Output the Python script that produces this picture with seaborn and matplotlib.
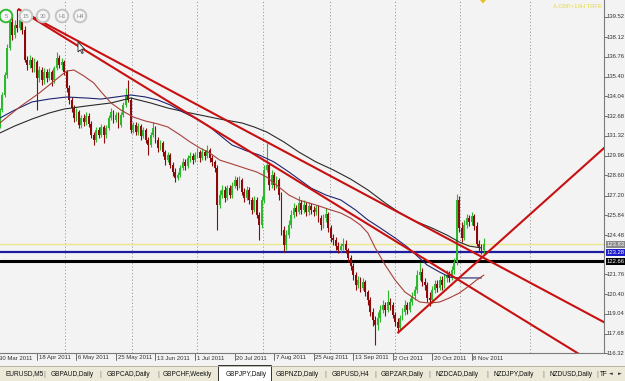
import numpy as np
import pandas as pd
import matplotlib
matplotlib.use("Agg")
import matplotlib.pyplot as plt
import matplotlib.transforms as mtransforms
from matplotlib.patches import Circle, Rectangle, Polygon
import seaborn as sns

# ---------------- data (GBPJPY, Daily) ----------------
first_bar = 1  # bar 0 = 30 Mar 2011
bar_open = [132.07,133.10,134.14,135.52,137.38,139.17,138.28,138.97,138.76,139.31,138.62,136.55,136.21,136.55,136.00,136.41,135.31,135.86,135.17,135.72,
135.31,135.72,135.17,136.00,136.69,136.21,136.41,135.72,134.62,133.79,133.24,132.55,132.97,132.07,132.55,132.28,132.69,132.14,131.38,131.03,
131.72,131.38,131.93,131.38,131.86,132.55,132.97,132.41,132.76,132.07,132.76,133.45,134.14,133.79,131.72,132.07,131.59,132.00,131.31,131.72,
131.03,130.69,131.38,131.86,131.03,130.48,130.83,130.21,129.65,130.00,129.31,128.83,128.41,128.62,129.10,129.52,129.24,129.79,129.93,129.65,
130.00,130.21,129.79,130.21,129.93,130.34,129.79,129.52,129.10,126.55,127.24,127.59,127.03,127.72,127.24,127.86,128.28,127.86,128.28,127.45,
127.03,127.59,126.90,126.21,126.90,125.86,125.17,126.90,128.97,129.31,127.93,128.62,127.93,128.28,127.24,124.83,123.79,124.48,125.17,125.86,
126.34,126.07,126.69,126.21,126.55,126.07,126.48,126.21,126.07,126.34,125.65,125.17,125.65,125.93,124.97,124.28,124.14,123.72,123.45,123.72,
123.86,123.45,122.90,122.34,121.72,121.03,121.38,120.83,121.24,120.55,120.00,119.17,118.62,118.27,118.76,119.31,119.65,119.31,119.86,119.65,
118.96,118.48,118.06,118.76,119.17,119.65,119.31,119.86,120.27,120.69,121.72,121.93,121.24,121.03,120.14,120.00,120.69,121.10,120.83,121.38,
121.03,121.52,121.72,121.52,122.07,122.62,126.90,124.97,124.28,125.17,125.65,125.38,125.79,125.10,123.86,123.59,123.45]
bar_high = [133.24,134.35,135.72,137.66,139.86,139.66,139.31,140.07,139.66,139.59,138.90,136.83,136.90,136.76,136.69,136.55,136.14,136.07,136.00,135.93,
136.00,135.86,136.14,137.10,136.90,136.69,136.55,135.86,134.83,134.00,133.45,133.24,133.10,132.76,132.83,132.97,132.90,132.34,131.59,131.93,
131.93,132.14,132.07,132.07,132.76,133.24,133.10,132.97,132.97,132.97,133.66,134.62,135.17,134.00,132.28,132.28,132.21,132.14,131.93,131.86,
131.24,131.59,132.28,132.00,131.24,131.03,130.97,130.34,130.21,130.14,129.52,129.10,128.83,129.31,129.79,129.72,130.00,130.21,130.14,130.21,
130.48,130.34,130.48,130.34,130.69,130.48,130.00,129.65,129.31,127.59,127.93,127.86,127.93,127.93,128.14,128.55,128.48,128.55,128.41,127.72,
127.86,127.79,127.10,127.17,127.10,126.07,127.17,129.31,130.83,129.52,128.97,128.83,128.55,128.41,127.45,125.10,124.83,125.52,126.21,126.69,
126.55,127.17,126.90,126.90,126.76,126.76,126.69,126.48,126.55,126.55,125.86,125.93,126.34,126.07,125.17,124.55,124.34,124.00,123.93,124.28,
124.14,123.59,123.10,122.55,121.93,121.65,121.59,121.52,121.38,120.69,120.21,119.45,118.90,119.17,119.65,120.00,119.86,120.69,120.14,119.86,
119.17,118.76,118.96,119.45,120.00,119.86,120.14,120.55,120.97,122.07,122.62,122.21,121.52,121.24,120.55,120.97,121.38,121.38,121.65,121.65,
121.79,122.07,122.00,122.34,122.90,127.31,127.17,125.38,125.52,125.93,125.86,126.07,125.93,125.38,124.14,123.86,124.28]
bar_low = [131.86,132.97,134.00,135.31,137.24,137.93,138.07,138.48,138.62,138.34,136.41,135.86,136.00,135.72,135.72,133.10,135.03,134.83,134.90,135.03,
135.17,134.76,134.97,135.86,136.00,135.86,135.52,134.35,133.52,132.97,132.28,132.34,131.86,131.86,132.00,132.07,131.93,131.17,130.69,130.90,
131.17,131.24,130.83,131.17,131.72,132.41,132.21,132.28,131.86,131.93,132.62,133.31,133.66,131.52,131.52,131.38,131.38,131.03,131.17,130.83,
130.00,130.55,131.24,130.83,130.21,130.34,129.93,129.31,129.52,129.10,128.55,128.14,128.28,128.48,128.97,128.97,129.10,129.52,129.38,129.52,
129.79,129.52,129.65,129.65,129.79,129.52,129.24,128.83,124.83,126.34,127.03,126.76,126.90,127.03,127.03,127.72,127.59,127.72,127.24,126.76,
126.90,126.62,125.93,126.07,125.65,124.14,124.97,126.69,128.83,127.59,127.72,127.59,127.72,126.90,124.48,123.31,123.45,124.28,124.97,125.65,
125.79,125.93,125.93,126.00,125.79,125.86,125.93,125.79,125.86,125.38,124.83,124.97,125.38,124.69,124.00,123.79,123.45,123.24,123.31,123.45,
123.24,122.62,122.07,121.38,120.69,120.83,120.55,120.69,120.27,119.65,118.90,118.21,116.90,117.93,118.48,119.10,118.90,119.17,119.31,118.76,
118.21,117.72,117.93,118.62,118.96,119.03,119.17,119.65,120.00,120.48,121.38,120.97,120.69,119.86,119.58,119.79,120.48,120.55,120.69,120.69,
120.83,121.24,121.24,121.38,121.79,122.41,124.69,124.00,124.14,124.97,125.10,125.17,124.83,123.72,123.31,123.17,123.10]
bar_close = [133.10,134.14,135.52,137.38,139.17,138.28,138.97,138.76,139.31,138.62,136.55,136.21,136.55,136.00,136.41,135.31,135.86,135.17,135.72,135.31,
135.72,135.17,136.00,136.69,136.21,136.41,135.72,134.62,133.79,133.24,132.55,132.97,132.07,132.55,132.28,132.69,132.14,131.38,131.03,131.72,
131.38,131.93,131.38,131.86,132.55,132.97,132.41,132.76,132.07,132.76,133.45,134.14,133.79,131.72,132.07,131.59,132.00,131.31,131.72,131.03,
130.69,131.38,131.86,131.03,130.48,130.83,130.21,129.65,130.00,129.31,128.83,128.41,128.62,129.10,129.52,129.24,129.79,129.93,129.65,130.00,
130.21,129.79,130.21,129.93,130.34,129.79,129.52,129.10,126.55,127.24,127.59,127.03,127.72,127.24,127.86,128.28,127.86,128.28,127.45,127.03,
127.59,126.90,126.21,126.90,125.86,125.17,126.90,128.97,129.31,127.93,128.62,127.93,128.28,127.24,124.83,123.79,124.48,125.17,125.86,126.34,
126.07,126.69,126.21,126.55,126.07,126.48,126.21,126.07,126.34,125.65,125.17,125.65,125.93,124.97,124.28,124.14,123.72,123.45,123.72,123.86,
123.45,122.90,122.34,121.72,121.03,121.38,120.83,121.24,120.55,120.00,119.17,118.62,118.27,118.76,119.31,119.65,119.31,119.86,119.65,118.96,
118.48,118.06,118.76,119.17,119.65,119.31,119.86,120.27,120.69,121.72,121.93,121.24,121.03,120.14,120.00,120.69,121.10,120.83,121.38,121.03,
121.52,121.72,121.52,122.07,122.62,126.90,124.97,124.28,125.17,125.65,125.38,125.79,125.10,123.86,123.59,123.45,123.83]

# moving averages (bar index, price)
fast_ma_bars = [1, 5, 9, 13, 17, 21, 25, 28, 31, 35, 39, 42, 46, 50, 55, 60, 65, 69, 74, 78, 82, 86, 90, 95, 100, 105,
                109, 114, 118, 122, 129, 135, 139, 143, 147, 150, 153, 157, 161, 165, 171, 175, 179, 183, 187, 191, 194, 197]
fast_ma_vals = [132.21, 132.76, 133.31, 133.79, 134.28, 134.83, 135.38, 135.79, 135.86, 135.45, 134.97, 134.35, 133.59,
                133.10, 132.62, 132.34, 132.14, 131.93, 131.38, 130.90, 130.48, 130.14, 129.65, 129.38, 129.10, 128.83,
                128.48, 127.79, 127.24, 126.90, 126.55, 126.21, 126.00, 125.65, 125.17, 124.62, 123.59, 122.41, 121.38,
                120.55, 119.86, 119.79, 119.86, 120.14, 120.48, 120.97, 121.38, 121.72]
mid_ma_bars = [1, 7, 14, 21, 28, 36, 42, 48, 54, 60, 65, 70, 75, 81, 86, 91, 95, 101, 106, 112, 118, 127, 133, 139, 145,
               150, 155, 161, 166, 170, 174, 179, 183, 187, 196]
mid_ma_vals = [132.55, 133.10, 133.66, 133.86, 134.00, 133.93, 133.86, 134.00, 134.14, 134.00, 133.79, 133.45, 132.97,
               132.48, 131.93, 131.24, 130.69, 130.28, 130.00, 129.52, 128.83, 127.72, 127.24, 126.90, 126.21, 125.52,
               124.97, 124.28, 123.65, 123.03, 122.41, 121.93, 121.59, 121.52, 121.52]
slow_ma_bars = [1, 7, 14, 21, 27, 36, 46, 54, 62, 69, 76, 82, 90, 99, 104, 109, 116, 122, 129, 136, 143, 150, 157, 163,
                169, 176, 182, 187, 191, 196]
slow_ma_vals = [131.52, 132.00, 132.48, 132.90, 133.17, 133.38, 133.59, 133.93, 133.59, 133.24, 132.97, 132.76, 132.48,
                132.21, 131.93, 131.59, 130.90, 130.21, 129.52, 128.97, 128.34, 127.59, 126.69, 126.00, 125.45, 124.96,
                124.48, 124.00, 123.72, 123.59]

# trend lines: two anchors each (bar, price)
trend_a_bar = [8.34, 8.34, 162.0]
trend_a_price = [140.07, 140.07, 117.72]
trend_b_bar = [163.0, 219.7, 245.6]
trend_b_price = [125.99, 117.93, 130.48]

level_prices = [123.83, 123.28, 122.66]
level_colors = ["#EDE68A", "#1C1CA0", "#000000"]
level_label_bg = ["#8A8A8A", "#1C1CC8", "#000000"]
level_widths = [1.0, 1.6, 2.2]

price_ticks = [139.52, 138.12, 136.76, 135.40, 134.04, 132.68, 131.32, 129.96, 128.60, 127.20,
               125.84, 124.48, 121.76, 120.40, 119.04, 117.68, 116.32]
date_labels = ["30 Mar 2011", "18 Apr 2011", "6 May 2011", "25 May 2011", "13 Jun 2011", "1 Jul 2011",
               "20 Jul 2011", "7 Aug 2011", "25 Aug 2011", "13 Sep 2011", "2 Oct 2011", "20 Oct 2011", "8 Nov 2011"]
date_label_bars = [0, 16, 32, 48, 64, 80, 96, 112, 128, 144, 160, 176, 192]
grid_bars = [27.4, 54.5, 80.8, 107.5, 134.6, 160.9, 187.3, 215.6]

tab_names = ["EURUSD,M5", "GBPAUD,Daily", "GBPCAD,Daily", "GBPCHF,Weekly", "GBPJPY,Daily", "GBPNZD,Daily",
             "GBPUSD,H4", "GBPZAR,Daily", "NZDCAD,Daily", "NZDJPY,Daily", "NZDUSD,Daily", "TF"]
tab_x = [5, 51, 107, 163, 226, 276, 332, 381, 436, 494, 550, 600]
sep_x = [44, 100, 158, 325, 375, 429, 487, 543, 597]
button_labels = ["5", "15", "30", "H1", "H4"]
button_x = [6, 26, 43, 62, 80]

# ---------------- figure ----------------
sns.set_theme(style="white")
plt.rcParams['font.family'] = ['Liberation Sans', 'DejaVu Sans']

BG = "#F3F3F3"
W, H = 625, 381
fig = plt.figure(figsize=(W / 100, H / 100), dpi=100, facecolor=BG)
ax = fig.add_axes([0, (H - 353) / H, 604 / W, 353 / H])
ax.set_facecolor(BG)
ax.set_xlim(1.05, 245.6)
ax.set_ylim(116.345, 140.69)
for s in ["top", "left"]:
    ax.spines[s].set_visible(False)
for s in ["right", "bottom"]:
    ax.spines[s].set_color("#7A7A7A")
    ax.spines[s].set_linewidth(0.8)
ax.set_xticks([])
ax.set_yticks([])

# grid
for g in grid_bars:
    ax.axvline(g, color="#9C9C9C", lw=0.7, ls=(0, (1.2, 2.2)), zorder=0)

# horizontal levels
for p, c, w in zip(level_prices, level_colors, level_widths):
    ax.axhline(p, color=c, lw=w, zorder=2)

# candles
o = np.array(bar_open); hi = np.array(bar_high); lo = np.array(bar_low); c = np.array(bar_close)
xs = np.arange(first_bar, first_bar + len(c))
cols = np.where(c >= o, "#2EB82E", "#8C0A0A")
ax.vlines(xs, lo, hi, colors=cols, lw=0.8, zorder=3)
ax.bar(xs, c - o, bottom=o, width=0.74, color=cols, lw=0, zorder=3)

# moving averages
ma_df = pd.concat([
    pd.DataFrame({"bar": slow_ma_bars, "price": slow_ma_vals, "ma": "slow"}),
    pd.DataFrame({"bar": mid_ma_bars, "price": mid_ma_vals, "ma": "mid"}),
    pd.DataFrame({"bar": fast_ma_bars, "price": fast_ma_vals, "ma": "fast"}),
])
sns.lineplot(data=ma_df, x="bar", y="price", hue="ma", ax=ax, sort=False, estimator=None,
             palette={"slow": "#2A2A2A", "mid": "#1E2470", "fast": "#A8403A"}, lw=0.8, legend=False, zorder=4)
ax.set_xlabel(""); ax.set_ylabel("")

# trend lines (rays to the right)
x_right = 250.0
for xa, ya, xb, yb in zip(trend_a_bar, trend_a_price, trend_b_bar, trend_b_price):
    slope = (yb - ya) / (xb - xa)
    ax.plot([xa, x_right], [ya, ya + slope * (x_right - xa)], color="#C81010", lw=1.5, zorder=5,
            solid_capstyle="butt")

# price scale
tr_y = mtransforms.blended_transform_factory(ax.transAxes, ax.transData)
px = 1.0 / 604
for p in price_ticks:
    ax.plot([1.0, 1.0 + 2.5 * px], [p, p], transform=tr_y, color="#555555", lw=0.6, clip_on=False)
    ax.text(1.0 + 3.0 * px, p, f"{p:.2f}", transform=tr_y, ha="left", va="center",
            fontsize=4.2, color="#333333", clip_on=False)
for p, bg in zip(level_prices, level_label_bg):
    ax.text(1.0 + 3.0 * px, p, f"{p:.2f}", transform=tr_y, ha="left", va="center",
            fontsize=4.2, color="white", clip_on=False,
            bbox=dict(boxstyle="square,pad=0.12", fc=bg, ec="none"))

# time scale
tr_x = mtransforms.blended_transform_factory(ax.transData, ax.transAxes)
py = 1.0 / 353
for b, lab in zip(date_label_bars, date_labels):
    ax.plot([b, b], [0, -7 * py], transform=tr_x, color="#555555", lw=0.6, clip_on=False)
    ax.text(b + 0.7, -5 * py, lab, transform=tr_x, ha="left", va="center",
            fontsize=4.3, color="#333333", clip_on=False)

# ---------------- overlay (buttons, tabs, cursor) ----------------
ov = fig.add_axes([0, 0, 1, 1], zorder=10)
ov.set_xlim(0, W); ov.set_ylim(H, 0); ov.axis("off"); ov.patch.set_alpha(0)

for i, (bx, bl) in enumerate(zip(button_x, button_labels)):
    ring = "#33BB33" if i == 0 else "#C4C4C4"
    ov.add_patch(Circle((bx, 16), 6.3, fc="#F6F6F6", ec=ring, lw=1.4))
    ov.text(bx, 16.3, bl, ha="center", va="center", fontsize=4.2, color="#8A8A8A")

# mouse cursor
ov.add_patch(Polygon([[78, 42], [78, 52], [80.3, 49.8], [82, 53.5], [83.3, 52.8], [81.6, 49.2], [84.5, 49]],
                     closed=True, fc="white", ec="#222222", lw=0.6))

ov.text(602, 7, "A.GBP+10H TRFE", ha="right", va="center", fontsize=4.2, color="#E6DC3C")
ov.add_patch(Polygon([[480, 0], [486, 0], [483, 3.5]], closed=True, fc="#E8C020", ec="none"))

ov.add_patch(Rectangle((0, 366), W, 15, fc="#ECE9D8", ec="none"))
ov.plot([0, W], [366, 366], color="#B0AC9C", lw=0.6)
ov.add_patch(Rectangle((218, 365), 53, 17, fc="white", ec="#303030", lw=0.7))
for tx, name in zip(tab_x, tab_names):
    ov.text(tx, 374, name, ha="left", va="center", fontsize=4.7, color="#111111")
for sx in sep_x:
    ov.text(sx, 374, "|", ha="center", va="center", fontsize=5, color="#808080")
ov.text(611, 374, "\u25c4", ha="center", va="center", fontsize=3.5, color="#333333", family="DejaVu Sans")
ov.text(620, 374, "\u25ba", ha="center", va="center", fontsize=3.5, color="#333333", family="DejaVu Sans")

fig.savefig("out.png", dpi=100, facecolor=BG)
